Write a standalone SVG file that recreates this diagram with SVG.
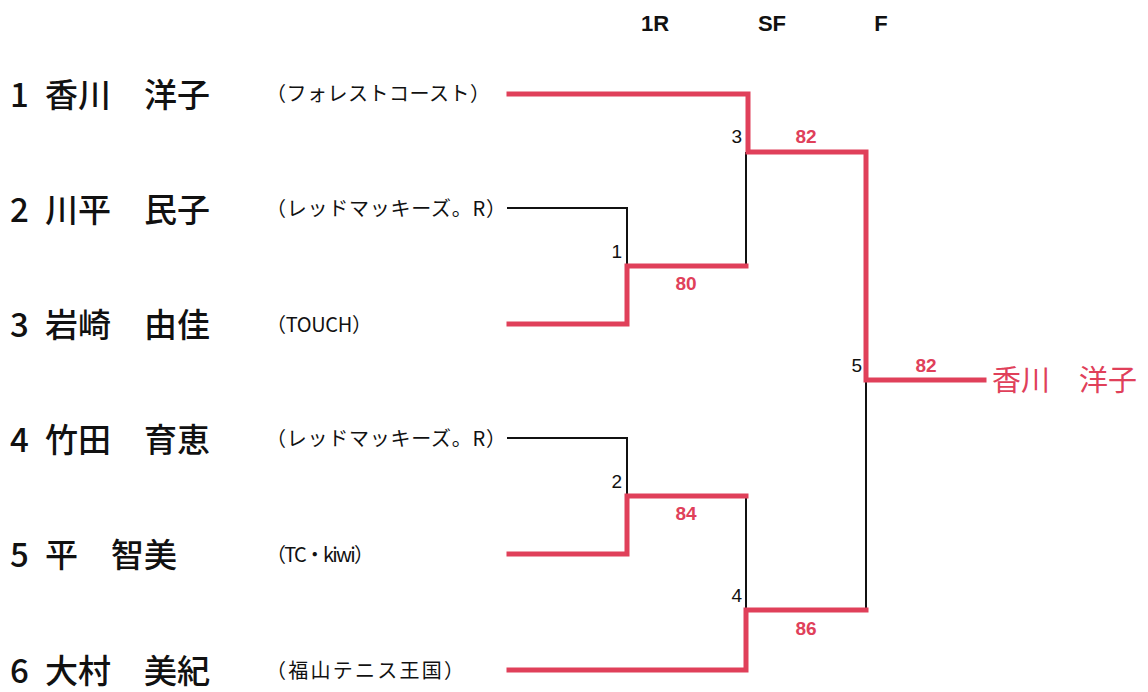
<svg xmlns="http://www.w3.org/2000/svg" width="1148" height="692" viewBox="0 0 1148 692">
<style>
.name{font-family:"Noto Sans CJK JP","Noto Sans",sans-serif;font-size:33px;font-weight:500;fill:#111;}
.team{font-family:"Noto Sans CJK JP","Noto Sans",sans-serif;font-size:20px;fill:#111;}
.hdr{font-family:"Liberation Sans",Arial,sans-serif;font-size:22px;font-weight:bold;fill:#111;text-anchor:middle;}
.num{font-family:"Liberation Sans",Arial,sans-serif;font-size:19px;fill:#111;text-anchor:end;}
.score{font-family:"Liberation Sans",Arial,sans-serif;font-size:19px;font-weight:bold;fill:#e0405a;text-anchor:middle;}
.win{font-family:"Noto Sans CJK JP","Noto Sans",sans-serif;font-size:29px;fill:#e0405a;}
.red{fill:none;stroke:#e0405a;stroke-width:5;stroke-linejoin:miter;stroke-linecap:square;}
.blk{fill:none;stroke:#111;stroke-width:2;}
</style>
<rect width="1148" height="692" fill="#fff"/>
<g id="headers">
<text class="hdr" x="655" y="31">1R</text>
<text class="hdr" x="772" y="31">SF</text>
<text class="hdr" x="881" y="31">F</text>
</g>
<g id="p1"><text class="name" x="10" y="107">1</text><text class="name" x="45" y="107">香川　洋子</text><text class="team" x="266" y="101" textLength="224" lengthAdjust="spacing">（フォレストコースト）</text></g>
<g id="p2"><text class="name" x="10" y="222">2</text><text class="name" x="45" y="222">川平　民子</text><text class="team" x="266" y="216" textLength="240" lengthAdjust="spacing">（レッドマッキーズ。R）</text></g>
<g id="p3"><text class="name" x="10" y="337">3</text><text class="name" x="45" y="337">岩崎　由佳</text><text class="team" x="266" y="332" textLength="106" lengthAdjust="spacing">（TOUCH）</text></g>
<g id="p4"><text class="name" x="10" y="452">4</text><text class="name" x="45" y="452">竹田　育恵</text><text class="team" x="266" y="446" textLength="240" lengthAdjust="spacing">（レッドマッキーズ。R）</text></g>
<g id="p5"><text class="name" x="10" y="567">5</text><text class="name" x="45" y="567">平　智美</text><text class="team" x="266" y="562" textLength="108" lengthAdjust="spacing">（TC・kiwi）</text></g>
<g id="p6"><text class="name" x="10" y="683">6</text><text class="name" x="45" y="683">大村　美紀</text><text class="team" x="266" y="678" textLength="198" lengthAdjust="spacing">（福山テニス王国）</text></g>
<g id="connectors">
<path class="blk" d="M507 208 H627 V266"/>
<path class="blk" d="M746 266 V152"/>
<path class="blk" d="M507 438 H627 V496"/>
<path class="blk" d="M746 496 V610"/>
<path class="blk" d="M866 610 V380"/>
<path class="red" d="M509 94 H748 V152 H866 V380 H984"/>
<path class="red" d="M509 324 H627 V266 H746"/>
<path class="red" d="M509 554 H627 V496 H746"/>
<path class="red" d="M509 670 H746 V610 H866"/>
</g>
<g id="labels">
<text class="num" x="622" y="258">1</text>
<text class="num" x="622" y="488">2</text>
<text class="num" x="742" y="143">3</text>
<text class="num" x="742" y="602">4</text>
<text class="num" x="862" y="372">5</text>
<text class="score" x="686" y="290">80</text>
<text class="score" x="686" y="520">84</text>
<text class="score" x="806" y="143">82</text>
<text class="score" x="806" y="635">86</text>
<text class="score" x="926" y="372">82</text>
</g>
<g id="winner"><text class="win" x="992" y="391">香川　洋子</text></g>
</svg>
